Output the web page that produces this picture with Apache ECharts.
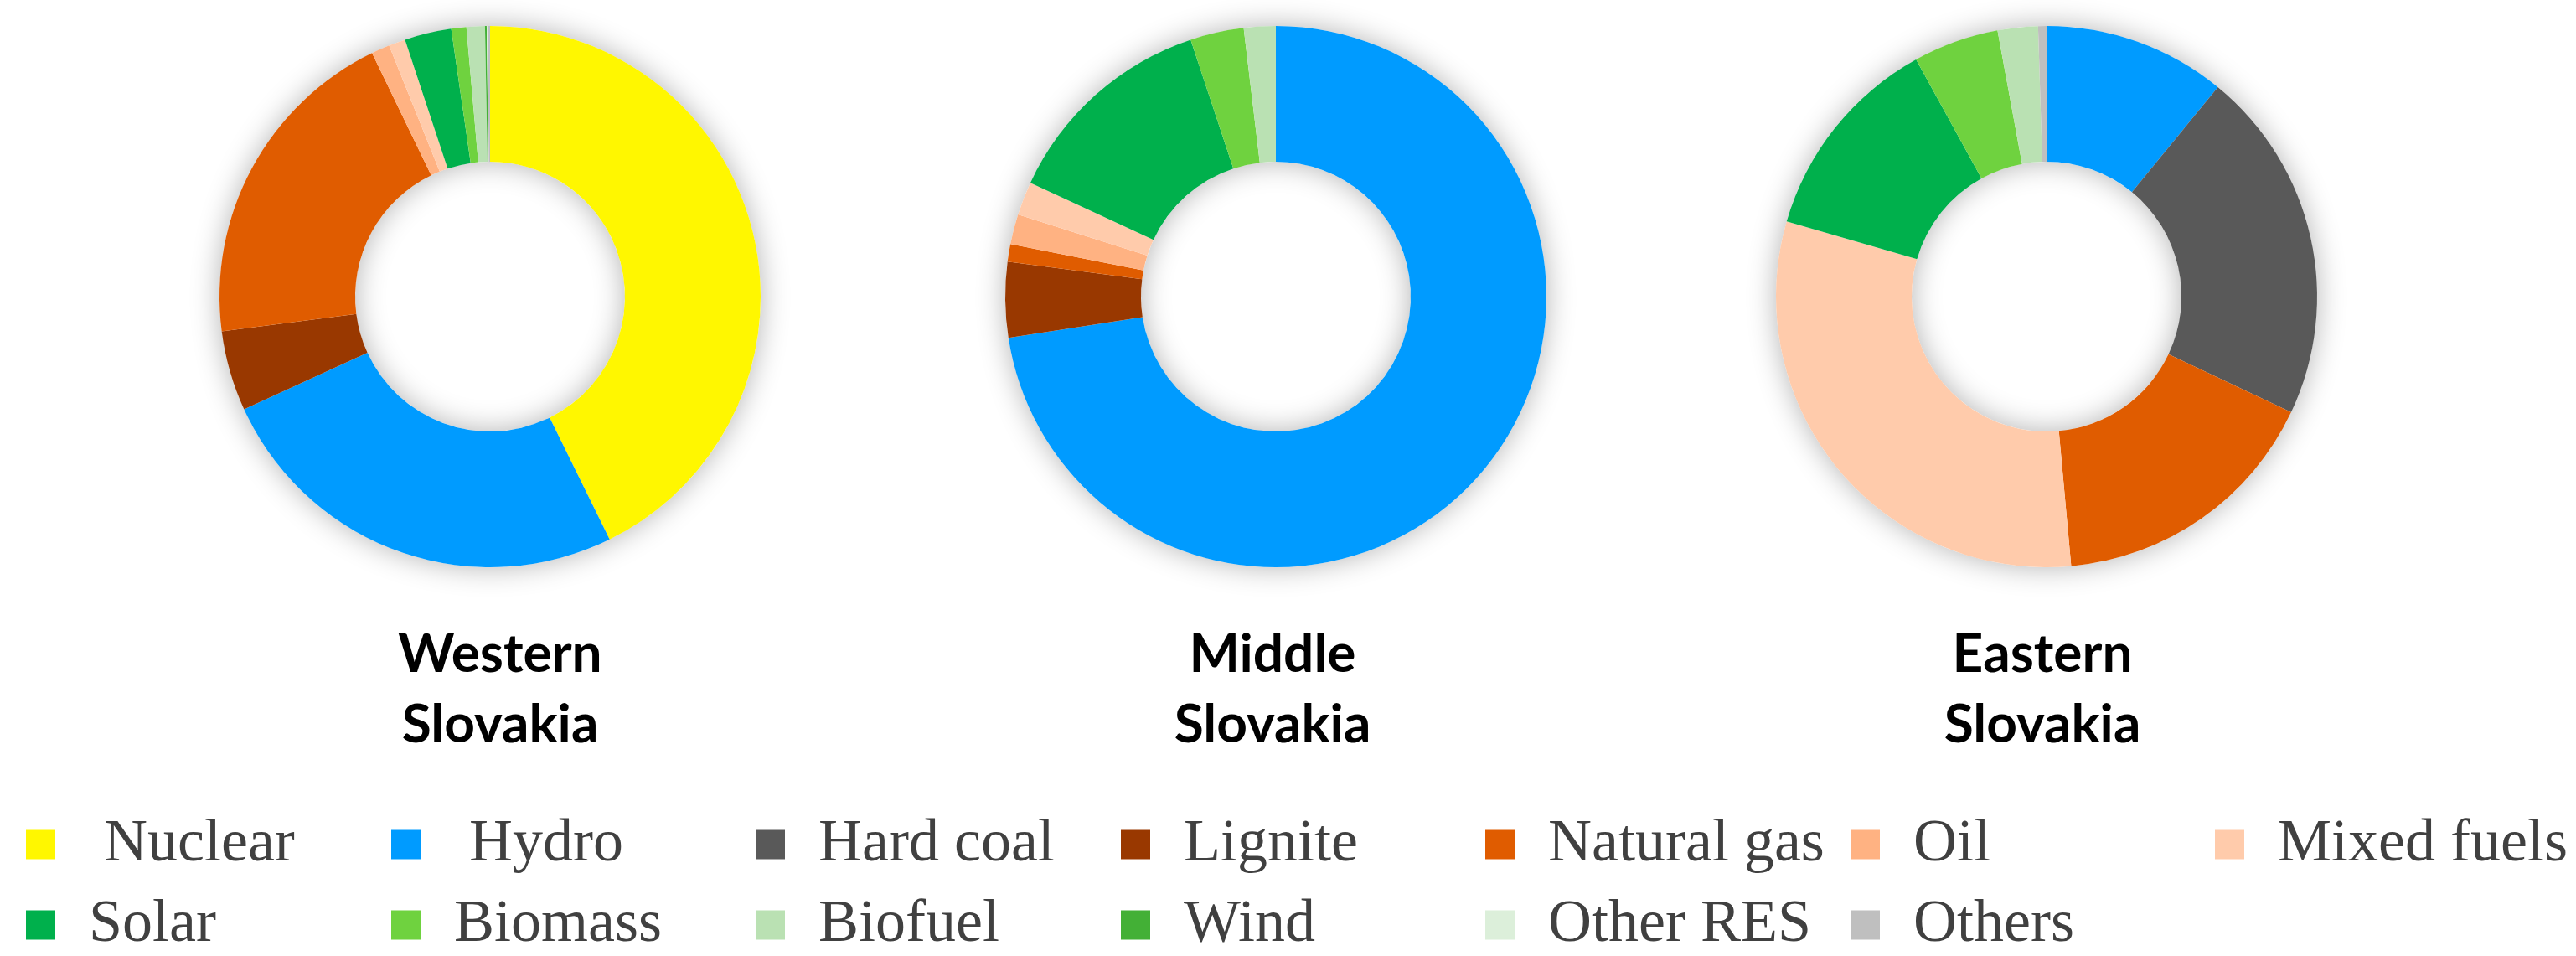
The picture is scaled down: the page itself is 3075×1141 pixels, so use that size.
<!DOCTYPE html>
<html>
<head>
<meta charset="utf-8">
<style>
html,body{margin:0;padding:0;background:#fff;}
#chart{width:3075px;height:1141px;}
</style>
<script src="https://cdn.jsdelivr.net/npm/echarts@6/dist/echarts.min.js"></script>
</head>
<body>
<div id="chart"></div>
<script>
// Energy source categories (legend order == slice order, clockwise from 12 o'clock)
const categories = ['Nuclear', 'Hydro', 'Hard coal', 'Lignite', 'Natural gas', 'Oil', 'Mixed fuels',
                    'Solar', 'Biomass', 'Biofuel', 'Wind', 'Other RES', 'Others'];
// Legend texts as printed in the figure
const legendLabels = [' Nuclear', ' Hydro', 'Hard coal', 'Lignite', 'Natural gas', 'Oil', 'Mixed fuels',
                      'Solar', 'Biomass', 'Biofuel', 'Wind', 'Other RES', 'Others'];
const colors = ['#fff700', '#009bff', '#595959', '#993800', '#e05c00', '#ffb282', '#ffcbab',
                '#00b04c', '#6fd23f', '#bae1b3', '#43b036', '#dcefda', '#bfbfbf'];

// Shares (%)
const western = [42.8, 25.5, 0, 4.8, 19.9, 1.1, 1.0, 2.8, 0.9, 1.1, 0.1, 0.05, 0.15];
const middle  = [0, 72.6, 0, 4.5, 1.05, 1.8, 2.0, 13.0, 3.2, 1.9, 0, 0, 0];
const eastern = [0, 10.9, 21.1, 0, 16.5, 0, 30.9, 12.5, 5.1, 2.4, 0, 0, 0.5];

const regionTitles = ['Western\nSlovakia', 'Middle\nSlovakia', 'Eastern\nSlovakia'];
const regionValues = [western, middle, eastern];

const centers = [[585, 354], [1523, 354], [2443, 354]];
const titleX = [597, 1519, 2438];
const radius = [161, 323];

const series = [];
const titles = [];
regionValues.forEach((vals, i) => {
  // decorative white ring that casts the soft shadow
  series.push({
    type: 'pie', silent: true, center: centers[i], radius: radius,
    label: {show: false}, labelLine: {show: false}, z: 1,
    itemStyle: {color: '#ffffff', borderWidth: 0, shadowBlur: 34, shadowColor: 'rgba(0,0,0,0.3)'},
    data: [{name: '__ring' + i, value: 1}]
  });
  series.push({
    type: 'pie', name: regionTitles[i].replace('\n', ' '), center: centers[i], radius: radius,
    startAngle: 90, clockwise: true, z: 2,
    label: {show: false}, labelLine: {show: false},
    itemStyle: {borderWidth: 0},
    emphasis: {scale: false},
    data: categories.map((c, k) => ({name: c, value: vals[k], itemStyle: {color: colors[k]}}))
  });
  titles.push({
    text: regionTitles[i], left: titleX[i], top: 739, textAlign: 'center', padding: 0,
    textStyle: {fontFamily: 'Lato', fontWeight: 'bold', fontSize: 64, lineHeight: 84, color: '#000'}
  });
});

// legend: 7 columns x 2 rows
const colX = [31, 467, 902, 1338, 1773, 2209, 2644];
const legends = colX.map((x, c) => {
  const data = [categories[c]];
  if (categories[c + 7]) data.push(categories[c + 7]);
  return {
    orient: 'vertical', left: x, top: 972, padding: 0,
    itemWidth: 35, itemHeight: 35, itemGap: 24, icon: 'rect',
    selectedMode: false,
    data: data,
    formatter: name => legendLabels[categories.indexOf(name)],
    textStyle: {fontFamily: 'Liberation Serif', fontSize: 72, lineHeight: 72, color: '#404040', padding: [0, 0, 0, 35]}
  };
});

const chart = echarts.init(document.getElementById('chart'));
chart.setOption({
  animation: false,
  backgroundColor: '#ffffff',
  color: colors,
  title: titles,
  legend: legends,
  series: series
});
</script>
</body>
</html>
